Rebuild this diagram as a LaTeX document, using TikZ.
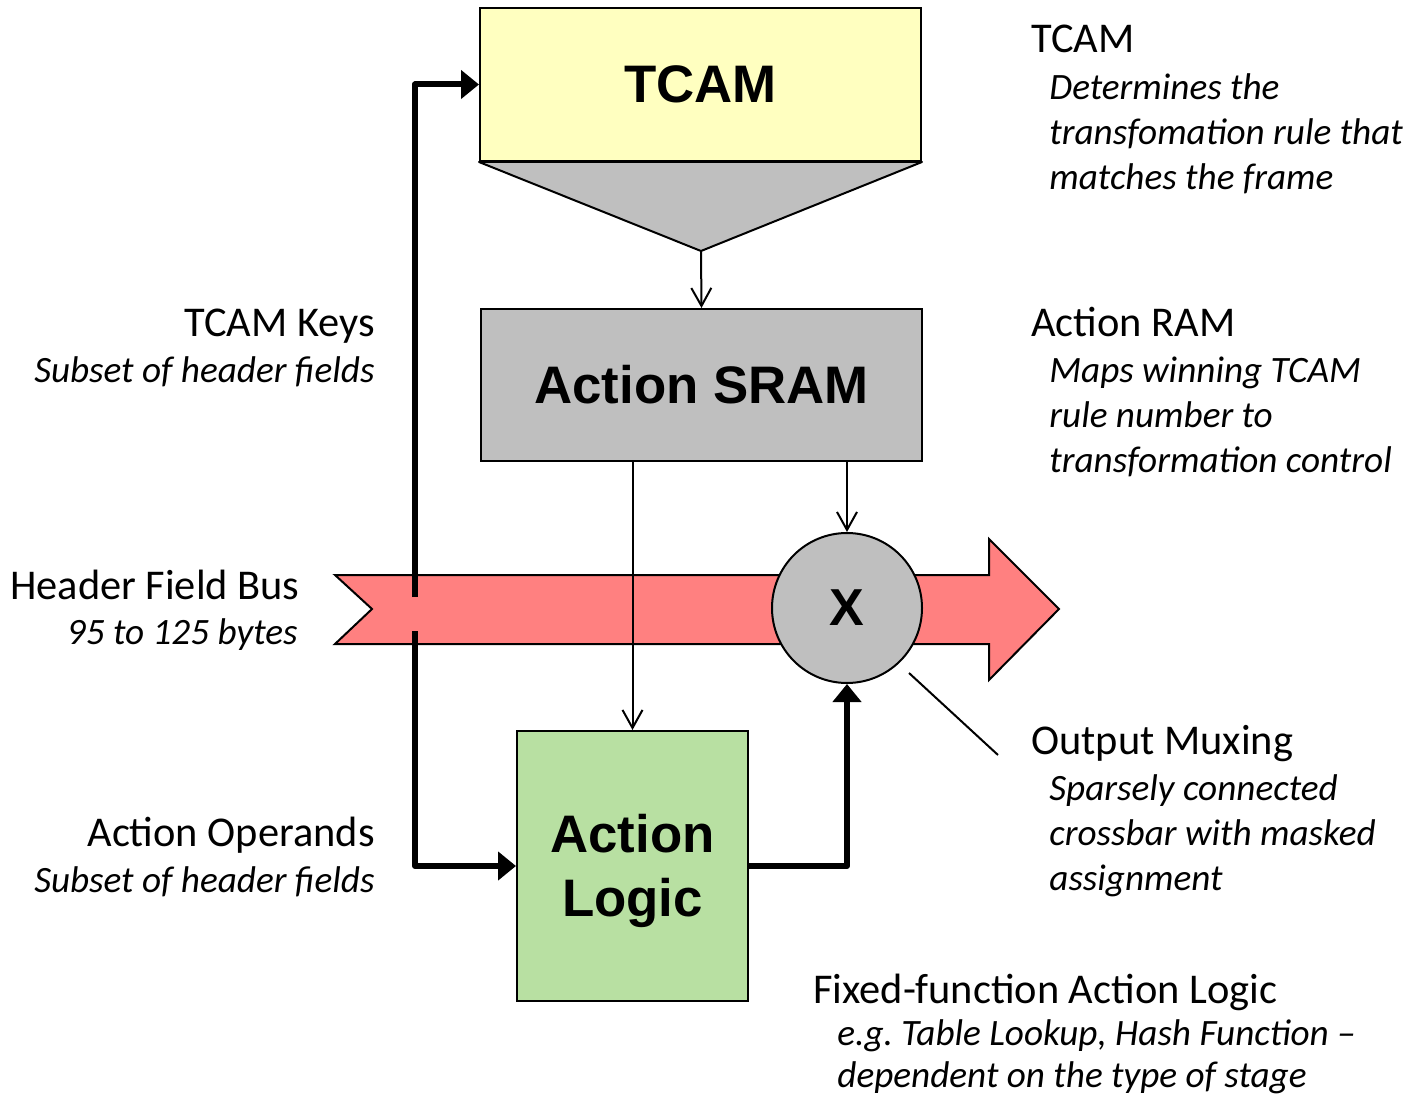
\documentclass[tikz,border=0pt]{standalone}
\usepackage{fontspec}
\setmainfont{Carlito}
\newfontfamily\boxfont{Liberation Sans}
\usetikzlibrary{arrows.meta}
\definecolor{tcamfill}{RGB}{255,255,192}
\definecolor{grayfill}{RGB}{191,191,191}
\definecolor{busfill}{RGB}{255,128,128}
\definecolor{logicfill}{RGB}{184,224,162}
\begin{document}
\frenchspacing
\begin{tikzpicture}[x=0.5pt,y=-0.5pt,
  box/.style={draw=black,line width=1pt,inner sep=0pt,minimum width=220.5pt},
  big/.style={font=\boxfont\fontsize{26.4}{32}\selectfont\bfseries},
  head/.style={font=\fontsize{21.2}{24}\selectfont,inner sep=0pt},
  note/.style={font=\fontsize{18.6}{24}\selectfont\itshape,inner sep=0pt},
  thin/.style={line width=1pt,-{Straight Barb[length=9pt,width=10pt]}},
  thick/.style={line width=3pt,line join=round},
  thickarrow/.style={thick,-{Triangle[length=9pt,width=14pt]}}]
\useasboundingbox (0,0) rectangle (1410,1097);

% header field bus
\draw[line width=1pt,fill=busfill] (335,575) -- (989,575) -- (989,539) -- (1059,609)
  -- (989,680) -- (989,644) -- (335,644) -- (372,609) -- cycle;

% blocks
\node[box,fill=tcamfill,minimum height=76.5pt,big] (tcam) at (700.5,84.5) {TCAM};
\coordinate (tip) at (701,251);
\draw[line width=1pt,fill=grayfill,line join=round] (tcam.south west) -- (tcam.south east) -- (tip) -- cycle;
\node[box,fill=grayfill,minimum height=76pt,big] (sram) at (701.5,385) {Action SRAM};
\node[box,fill=logicfill,minimum width=115.5pt,minimum height=135pt] (logic) at (632.5,866) {};
\node[big,align=center,inner sep=0pt] (logictext) at (632.5,871) {Action\\Logic};
\node[circle,draw=black,line width=1pt,fill=grayfill,minimum size=75pt,inner sep=0pt,
  font=\boxfont\fontsize{26}{26}\selectfont\bfseries] (mux) at (847,608) {X};

% thin connectors
\draw[thin] (tip) -- (sram.north);
\draw[thin] (sram.south -| logic.north) -- (logic.north);
\draw[thin] (sram.south -| mux.north) -- (mux.north);

% key and operand paths, broken where they cross the bus
\coordinate (keytop) at (415,597);
\coordinate (keybot) at (415,631);
\draw[thickarrow] (keytop) |- (tcam.west);
\draw[thickarrow] (keybot) |- (logic.west);
\draw[thickarrow] (logic.east) -| (mux.south);

% pointer to the mux
\coordinate (muxlabel) at (998,755);
\draw[line width=1pt] (909,673) -- (muxlabel);

% annotations
\node[head,anchor=base west] (t1) at (1031,53) {TCAM};
\node[note,anchor=base west] (t2) at (1049,100) {Determines the};
\node[note,anchor=base west] (t3) at (1049,145) {transfomation rule that};
\node[note,anchor=base west] (t4) at (1049,190) {matches the frame};

\node[head,anchor=base east] (k1) at (375,336) {TCAM Keys};
\node[note,anchor=base east] (k2) at (375,382) {Subset of header fields};

\node[head,anchor=base west] (r1) at (1031,336) {Action RAM};
\node[note,anchor=base west] (r2) at (1049,382) {Maps winning TCAM};
\node[note,anchor=base west] (r3) at (1049,427) {rule number to};
\node[note,anchor=base west] (r4) at (1049,472) {transformation control};

\node[head,anchor=base east] (b1) at (300,599) {Header Field Bus};
\node[note,anchor=base east] (b2) at (298,644) {95 to 125 bytes};

\node[head,anchor=base west] (m1) at (1031,754) {Output Muxing};
\node[note,anchor=base west] (m2) at (1049,800) {Sparsely connected};
\node[note,anchor=base west] (m3) at (1049,845) {crossbar with masked};
\node[note,anchor=base west] (m4) at (1049,890) {assignment};

\node[head,anchor=base east] (o1) at (375,846) {Action Operands};
\node[note,anchor=base east] (o2) at (375,892) {Subset of header fields};

\node[head,anchor=base west] (f1) at (813,1003) {Fixed-function Action Logic};
\node[note,anchor=base west] (f2) at (837,1045) {e.g. Table Lookup, Hash Function --};
\node[note,anchor=base west] (f3) at (837,1087) {dependent on the type of stage};
\end{tikzpicture}
\end{document}
